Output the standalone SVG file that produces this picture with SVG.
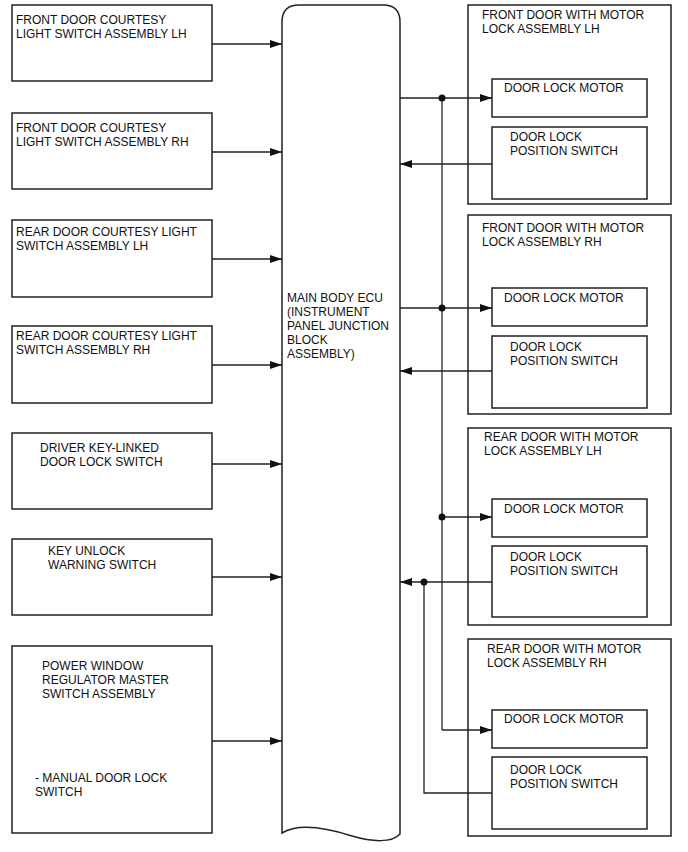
<svg xmlns="http://www.w3.org/2000/svg" width="688" height="852" viewBox="0 0 688 852">
<defs>
<style>
.box{fill:#fff;stroke:#222;stroke-width:1.5}
.ln{fill:none;stroke:#222;stroke-width:1.3}
text{font-family:"Liberation Sans",Arial,sans-serif;font-size:12px;fill:#111}
</style>
<marker id="ah" viewBox="0 0 12 8" refX="12" refY="4" markerWidth="12" markerHeight="8" markerUnits="userSpaceOnUse" orient="auto">
<path d="M0,0 L12,4 L0,8 z" fill="#111"/>
</marker>
</defs>
<rect width="688" height="852" fill="#fff"/>

<g id="fdcl-lh"><rect class="box" x="12" y="5" width="200" height="76"/><text x="16" y="24">FRONT DOOR COURTESY</text><text x="16" y="38">LIGHT SWITCH ASSEMBLY LH</text></g>
<g id="fdcl-rh"><rect class="box" x="12" y="113" width="200" height="76"/><text x="16" y="132">FRONT DOOR COURTESY</text><text x="16" y="146">LIGHT SWITCH ASSEMBLY RH</text></g>
<g id="rdcl-lh"><rect class="box" x="12" y="220" width="200" height="77"/><text x="16" y="236">REAR DOOR COURTESY LIGHT</text><text x="16" y="250">SWITCH ASSEMBLY LH</text></g>
<g id="rdcl-rh"><rect class="box" x="12" y="326" width="200" height="77"/><text x="16" y="340">REAR DOOR COURTESY LIGHT</text><text x="16" y="354">SWITCH ASSEMBLY RH</text></g>
<g id="dkl"><rect class="box" x="12" y="433" width="200" height="76"/><text x="40" y="452">DRIVER KEY-LINKED</text><text x="40" y="466">DOOR LOCK SWITCH</text></g>
<g id="kuw"><rect class="box" x="12" y="539" width="200" height="76"/><text x="48" y="555">KEY UNLOCK</text><text x="48" y="569">WARNING SWITCH</text></g>
<g id="pwm"><rect class="box" x="12" y="646" width="200" height="187"/><text x="42" y="670">POWER WINDOW</text><text x="42" y="684">REGULATOR MASTER</text><text x="42" y="698">SWITCH ASSEMBLY</text><text x="35" y="782">- MANUAL DOOR LOCK</text><text x="35" y="796">SWITCH</text></g>

<g id="ecu"><path class="box" d="M282,833 L282,22 Q282,5 299,5 L383,5 Q400,5 400,22 L400,834 C392,843 372,842 352,836 C330,829 300,822 282,833 Z"/>
<text x="287" y="302">MAIN BODY ECU</text><text x="287" y="316">(INSTRUMENT</text><text x="287" y="330">PANEL JUNCTION</text><text x="287" y="344">BLOCK</text><text x="287" y="358">ASSEMBLY)</text></g>

<g id="fd-lh"><rect class="box" x="468" y="5" width="203" height="199"/><text x="482" y="19">FRONT DOOR WITH MOTOR</text><text x="482" y="33">LOCK ASSEMBLY LH</text>
<g id="fd-lh-motor"><rect class="box" x="492" y="79" width="155" height="38"/><text x="504" y="92">DOOR LOCK MOTOR</text></g>
<g id="fd-lh-sw"><rect class="box" x="492" y="127" width="155" height="72"/><text x="510" y="141">DOOR LOCK</text><text x="510" y="155">POSITION SWITCH</text></g></g>

<g id="fd-rh"><rect class="box" x="468" y="215" width="203" height="199"/><text x="482" y="232">FRONT DOOR WITH MOTOR</text><text x="482" y="246">LOCK ASSEMBLY RH</text>
<g id="fd-rh-motor"><rect class="box" x="492" y="288" width="155" height="38"/><text x="504" y="302">DOOR LOCK MOTOR</text></g>
<g id="fd-rh-sw"><rect class="box" x="492" y="336" width="155" height="72"/><text x="510" y="351">DOOR LOCK</text><text x="510" y="365">POSITION SWITCH</text></g></g>

<g id="rd-lh"><rect class="box" x="468" y="428" width="203" height="197"/><text x="484" y="441">REAR DOOR WITH MOTOR</text><text x="484" y="455">LOCK ASSEMBLY LH</text>
<g id="rd-lh-motor"><rect class="box" x="492" y="499" width="155" height="38"/><text x="504" y="513">DOOR LOCK MOTOR</text></g>
<g id="rd-lh-sw"><rect class="box" x="492" y="546" width="155" height="71"/><text x="510" y="561">DOOR LOCK</text><text x="510" y="575">POSITION SWITCH</text></g></g>

<g id="rd-rh"><rect class="box" x="468" y="639" width="203" height="197"/><text x="487" y="653">REAR DOOR WITH MOTOR</text><text x="487" y="667">LOCK ASSEMBLY RH</text>
<g id="rd-rh-motor"><rect class="box" x="492" y="710" width="155" height="38"/><text x="504" y="723">DOOR LOCK MOTOR</text></g>
<g id="rd-rh-sw"><rect class="box" x="492" y="757" width="155" height="72"/><text x="510" y="774">DOOR LOCK</text><text x="510" y="788">POSITION SWITCH</text></g></g>

<g id="connectors">
<line class="ln" x1="212" y1="44" x2="282" y2="44" marker-end="url(#ah)"/>
<line class="ln" x1="212" y1="152" x2="282" y2="152" marker-end="url(#ah)"/>
<line class="ln" x1="212" y1="259" x2="282" y2="259" marker-end="url(#ah)"/>
<line class="ln" x1="212" y1="365" x2="282" y2="365" marker-end="url(#ah)"/>
<line class="ln" x1="212" y1="464" x2="282" y2="464" marker-end="url(#ah)"/>
<line class="ln" x1="212" y1="577" x2="282" y2="577" marker-end="url(#ah)"/>
<line class="ln" x1="212" y1="741" x2="282" y2="741" marker-end="url(#ah)"/>

<line class="ln" x1="400" y1="98" x2="492" y2="98" marker-end="url(#ah)"/>
<line class="ln" x1="442" y1="98" x2="442" y2="730"/>
<line class="ln" x1="442" y1="308" x2="492" y2="308" marker-end="url(#ah)"/>
<line class="ln" x1="442" y1="517" x2="492" y2="517" marker-end="url(#ah)"/>
<line class="ln" x1="442" y1="730" x2="492" y2="730" marker-end="url(#ah)"/>
<line class="ln" x1="400" y1="308" x2="442" y2="308"/>

<line class="ln" x1="492" y1="164" x2="400" y2="164" marker-end="url(#ah)"/>
<line class="ln" x1="492" y1="371" x2="400" y2="371" marker-end="url(#ah)"/>
<line class="ln" x1="492" y1="582" x2="400" y2="582" marker-end="url(#ah)"/>
<polyline class="ln" points="424,582 424,793 492,793"/>

<circle cx="442" cy="98" r="3.5" fill="#111"/>
<circle cx="442" cy="308" r="3.5" fill="#111"/>
<circle cx="442" cy="517" r="3.5" fill="#111"/>
<circle cx="424" cy="582" r="3.5" fill="#111"/>
</g>
</svg>
